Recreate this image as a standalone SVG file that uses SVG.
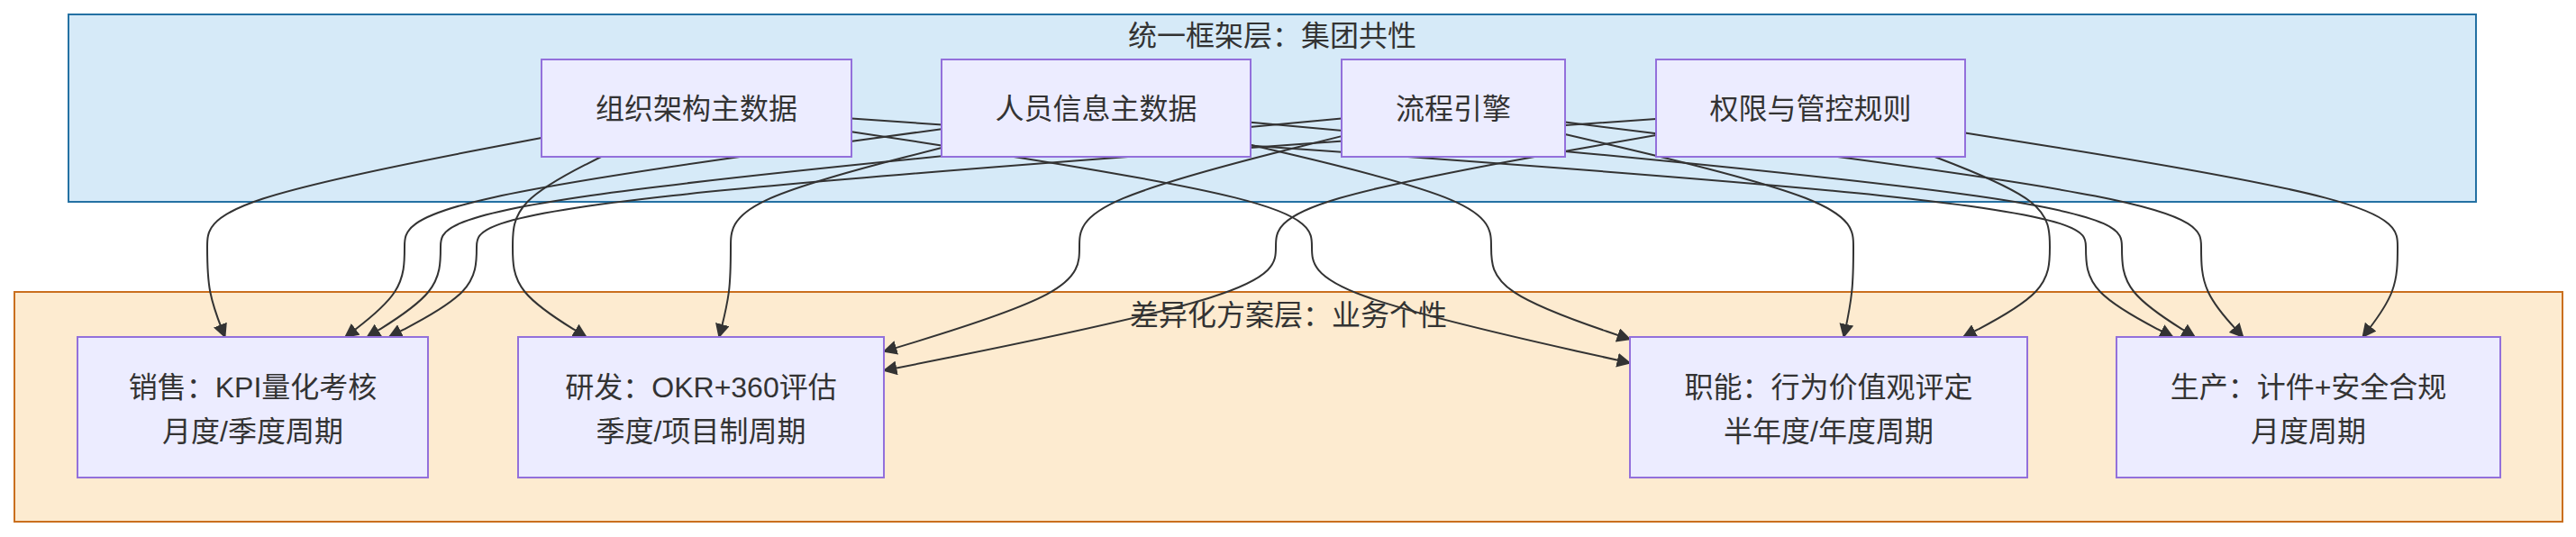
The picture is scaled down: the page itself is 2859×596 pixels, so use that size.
<svg xmlns="http://www.w3.org/2000/svg" width="2859" height="596" viewBox="0 0 2859 596">
<defs>
<style>
.txt{font-family:"Liberation Sans","Noto Sans CJK SC",sans-serif;font-size:32px;fill:#333;text-anchor:middle}
.node rect{fill:#ECECFF;stroke:#9370DB;stroke-width:2}
.edge{fill:none;stroke:#333;stroke-width:2;marker-end:url(#arrow)}
</style>
<marker id="arrow" viewBox="0 0 10 10" refX="9" refY="5" markerUnits="userSpaceOnUse" markerWidth="16" markerHeight="16" orient="auto"><path d="M0,0 L10,5 L0,10 z" fill="#333"/></marker>
</defs>
<rect width="2859" height="596" fill="#ffffff"/>
<g id="cluster-top">
<rect x="76" y="16" width="2672" height="208" fill="#D6EAF8" stroke="#2471A3" stroke-width="2"/>
<text class="txt" x="1412" y="51">统一框架层：集团共性</text>
</g>
<g id="cluster-bottom">
<rect x="16" y="324" width="2828" height="255" fill="#FDEBD0" stroke="#CA6F1E" stroke-width="2"/>
<text class="txt" x="1430" y="361">差异化方案层：业务个性</text>
</g>
<g id="connectors">
<path class="edge" d="M601,152.9 L539.2,164.8 C477.3,176.6 353.7,200.3 291.8,220.5 C230,240.7 230,257.3 230,274 C230,290.7 230,307.3 233.3,324 C236.6,340.7 243.1,357.3 246.4,365.7 L249.7,374"/>
<path class="edge" d="M1045,143.2 L945.7,156.7 C846.3,170.1 647.7,197.1 548.3,218.9 C449,240.7 449,257.3 449,274 C449,290.7 449,307.3 438,324 C427.1,340.7 405.1,357.3 394.2,365.7 L383.2,374"/>
<path class="edge" d="M1489,131.5 L1322.3,146.9 C1155.7,162.3 822.3,193.2 655.7,216.9 C489,240.7 489,257.3 489,274 C489,290.7 489,307.3 475.4,324 C461.9,340.7 434.7,357.3 421.2,365.7 L407.6,374"/>
<path class="edge" d="M1838,132 L1619.8,147.3 C1401.7,162.7 965.3,193.3 747.2,217 C529,240.7 529,257.3 529,274 C529,290.7 529,307.3 512.8,324 C496.6,340.7 464.3,357.3 448.1,365.7 L431.9,374"/>
<path class="edge" d="M667.1,174 L650.8,182.3 C634.4,190.7 601.7,207.3 585.4,224 C569,240.7 569,257.3 569,274 C569,290.7 569,307.3 582.6,324 C596.2,340.7 623.4,357.3 637,365.7 L650.6,374"/>
<path class="edge" d="M1045,164 L1006,174 C967,184 889,204 850,222.3 C811,240.7 811,257.3 811,274 C811,290.7 811,307.3 808.9,324 C806.7,340.7 802.4,357.3 800.3,365.7 L798.1,374"/>
<path class="edge" d="M1489,151.1 L1440.5,163.3 C1392,175.4 1295,199.7 1246.5,220.2 C1198,240.7 1198,257.3 1198,274 C1198,290.7 1198,307.3 1161.8,326.7 C1125.7,346 1053.3,368.1 1017.2,379.1 L981,390.1"/>
<path class="edge" d="M1838,150.1 L1767.7,162.4 C1697.3,174.7 1556.7,199.4 1486.3,220 C1416,240.7 1416,257.3 1416,274 C1416,290.7 1416,307.3 1343.5,330.2 C1271,353.1 1126,382.2 1053.5,396.8 L981,411.3"/>
<path class="edge" d="M945,146.2 L1030.2,159.2 C1115.3,172.1 1285.7,198.1 1370.8,219.4 C1456,240.7 1456,257.3 1456,274 C1456,290.7 1456,307.3 1514.8,328.8 C1573.7,350.3 1691.3,376.5 1750.2,389.7 L1809,402.8"/>
<path class="edge" d="M1388,160.7 L1432.5,171.3 C1477,181.8 1566,202.9 1610.5,221.8 C1655,240.7 1655,257.3 1655,274 C1655,290.7 1655,307.3 1680.7,324.4 C1706.3,341.5 1757.7,359.1 1783.3,367.8 L1809,376.6"/>
<path class="edge" d="M1737,149 L1790.3,161.5 C1843.7,174 1950.3,199 2003.7,219.8 C2057,240.7 2057,257.3 2057,274 C2057,290.7 2057,307.3 2055.2,324 C2053.4,340.7 2049.9,357.3 2048.1,365.7 L2046.3,374"/>
<path class="edge" d="M2147.3,174 L2168.6,182.3 C2189.9,190.7 2232.4,207.3 2253.7,224 C2275,240.7 2275,257.3 2275,274 C2275,290.7 2275,307.3 2259,324 C2243,340.7 2211.1,357.3 2195.1,365.7 L2179.1,374"/>
<path class="edge" d="M945,131.6 L1173.3,147 C1401.7,162.4 1858.3,193.2 2086.7,216.9 C2315,240.7 2315,257.3 2315,274 C2315,290.7 2315,307.3 2331.1,324 C2347.2,340.7 2379.3,357.3 2395.4,365.7 L2411.5,374"/>
<path class="edge" d="M1388,135.7 L1549.2,150.4 C1710.3,165.1 2032.7,194.6 2193.8,217.6 C2355,240.7 2355,257.3 2355,274 C2355,290.7 2355,307.3 2368.5,324 C2382,340.7 2408.9,357.3 2422.4,365.7 L2435.9,374"/>
<path class="edge" d="M1737,135.5 L1854.7,150.3 C1972.3,165 2207.7,194.5 2325.3,217.6 C2443,240.7 2443,257.3 2443,274 C2443,290.7 2443,307.3 2450.8,324 C2458.5,340.7 2474,357.3 2481.8,365.7 L2489.5,374"/>
<path class="edge" d="M2181,147.4 L2261,160.2 C2341,172.9 2501,198.5 2581,219.6 C2661,240.7 2661,257.3 2661,274 C2661,290.7 2661,307.3 2654.6,324 C2648.1,340.7 2635.2,357.3 2628.8,365.7 L2622.3,374"/>
</g>
<g id="node-org" class="node"><rect x="601" y="66" width="344" height="108"/><text class="txt" x="773" y="132">组织架构主数据</text></g>
<g id="node-people" class="node"><rect x="1045" y="66" width="343" height="108"/><text class="txt" x="1216.5" y="132">人员信息主数据</text></g>
<g id="node-process" class="node"><rect x="1489" y="66" width="248" height="108"/><text class="txt" x="1613" y="132">流程引擎</text></g>
<g id="node-permission" class="node"><rect x="1838" y="66" width="343" height="108"/><text class="txt" x="2009.5" y="132">权限与管控规则</text></g>
<g id="node-sales" class="node"><rect x="86" y="374" width="389" height="156"/><text class="txt" x="280.5" y="441">销售：KPI量化考核</text><text class="txt" x="280.5" y="490">月度/季度周期</text></g>
<g id="node-rd" class="node"><rect x="575" y="374" width="406" height="156"/><text class="txt" x="778" y="441">研发：OKR+360评估</text><text class="txt" x="778" y="490">季度/项目制周期</text></g>
<g id="node-function" class="node"><rect x="1809" y="374" width="441" height="156"/><text class="txt" x="2029.5" y="441">职能：行为价值观评定</text><text class="txt" x="2029.5" y="490">半年度/年度周期</text></g>
<g id="node-production" class="node"><rect x="2349" y="374" width="426" height="156"/><text class="txt" x="2562" y="441">生产：计件+安全合规</text><text class="txt" x="2562" y="490">月度周期</text></g>
</svg>
